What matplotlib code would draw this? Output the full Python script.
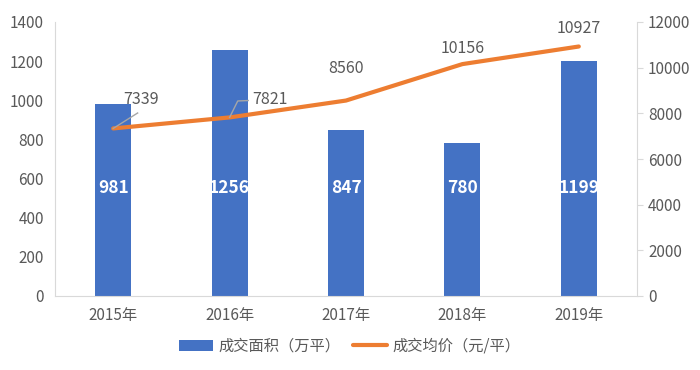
import matplotlib
matplotlib.use("Agg")
import matplotlib.pyplot as plt
import numpy as np

plt.rcParams['font.family'] = ['Noto Sans CJK SC', 'DejaVu Sans']

years = ["2015年", "2016年", "2017年", "2018年", "2019年"]
area = [981, 1256, 847, 780, 1199]
price = [7339, 7821, 8560, 10156, 10927]

fig = plt.figure(figsize=(7, 3.7), dpi=100)
ax = fig.add_axes([55/700, 1-296/370, 582/700, 274/370])
ax2 = ax.twinx()

x = np.arange(len(years))
bars = ax.bar(x, area, width=0.31, color="#4472C4", label="成交面积（万平）", zorder=2)
ax.set_xlim(-0.5, 4.5)
ax.set_ylim(0, 1400)
ax.set_yticks(range(0, 1401, 200))
ax.set_xticks(x)
ax.set_xticklabels(years)

line, = ax2.plot(x, price, color="#ED7D31", lw=3, label="成交均价（元/平）", solid_capstyle="round", zorder=3)
ax2.set_ylim(0, 12000)
ax2.set_yticks(range(0, 12001, 2000))

gray = "#595959"
for a in (ax, ax2):
    for s in a.spines.values():
        s.set_visible(False)
    a.tick_params(colors=gray, labelsize=11)
ax.spines['left'].set_visible(True)
ax.spines['left'].set_color("#D9D9D9")
ax.spines['bottom'].set_visible(True)
ax.spines['bottom'].set_color("#D9D9D9")
ax2.spines['right'].set_visible(True)
ax2.spines['right'].set_color("#D9D9D9")
ax.tick_params(axis='y', length=0, pad=8)
ax.tick_params(axis='x', length=0, pad=8)
ax2.tick_params(axis='y', length=4, color="#D9D9D9", pad=4)

ax2.set_zorder(ax.get_zorder() + 1)
ax2.patch.set_visible(False)

# bar labels
for xi, v in zip(x, area):
    ax.text(xi, 552, str(v), ha='center', va='center', color='white', fontsize=12.5, fontweight='bold')

# line labels: (dx, dy) offsets of the text from the point
offsets = [(0.24, 1245), (0.35, 763), (0, 1425), (0, 705), (0, 810)]
for i, (xi, v, (dx, dy)) in enumerate(zip(x, price, offsets)):
    if i == 0:
        ax2.plot([xi, xi + 0.21], [v, v + 676], color="#A6A6A6", lw=1, zorder=4)
    elif i == 1:
        ax2.plot([xi, xi + 0.07, xi + 0.16], [v, v + 720, v + 740], color="#A6A6A6", lw=1, zorder=4)
    ax2.text(xi + dx, v + dy, str(v), ha='center', va='center', color=gray, fontsize=11.5, zorder=5)

fig.legend(handles=[bars, line], loc='center', bbox_to_anchor=(0.5, 1-346/370), ncol=2,
           frameon=False, fontsize=11, labelcolor=gray, handlelength=2.2, columnspacing=0.8,
           handletextpad=0.4)

fig.savefig("out.png", dpi=100)
